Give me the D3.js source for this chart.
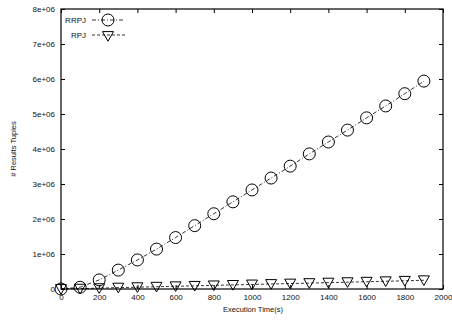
<!DOCTYPE html>
<html>
<head>
<meta charset="utf-8">
<script src="https://cdn.jsdelivr.net/npm/d3@7"></script>
<style>
  html, body { margin: 0; padding: 0; background: #fff; }
  svg { display: block; font-family: "Liberation Sans", Arial, sans-serif; }
</style>
</head>
<body>
<svg id="chart" width="452" height="320"></svg>
<script>
// Execution time samples (seconds)
const times = [0, 100, 200, 300, 400, 500, 600, 700, 800, 900, 1000,
               1100, 1200, 1300, 1400, 1500, 1600, 1700, 1800, 1900];
// Number of result tuples produced so far
const rrpj = [0, 50000, 260000, 540000, 830000, 1140000, 1470000, 1810000, 2150000, 2490000, 2830000,
              3170000, 3510000, 3860000, 4200000, 4540000, 4890000, 5230000, 5580000, 5940000];
const rpj = [0, 10000, 25000, 40000, 52000, 65000, 78000, 90000, 104000, 117000, 130000,
             143000, 156000, 169000, 182000, 195000, 208000, 221000, 235000, 250000];
const seriesNames = ["RRPJ", "RPJ"];
const xTicks = [0, 200, 400, 600, 800, 1000, 1200, 1400, 1600, 1800, 2000];
const yTicks = [0, 1e6, 2e6, 3e6, 4e6, 5e6, 6e6, 7e6, 8e6];
const yTickLabels = ["0", "1e+06", "2e+06", "3e+06", "4e+06", "5e+06", "6e+06", "7e+06", "8e+06"];

const svg = d3.select("#chart");
const L = 61, R = 443, T = 9, B = 289;

const x = d3.scaleLinear().domain([0, 2000]).range([L, R]);
const y = d3.scaleLinear().domain([0, 8e6]).range([B, T]);

const tickLen = 4;
const fs = 8;

// Axes with inward ticks and mirrored ticks on opposite sides
const gx = svg.append("g").attr("transform", `translate(0,${B})`)
  .call(d3.axisBottom(x).tickValues(xTicks).tickSize(-tickLen).tickPadding(6 + tickLen).tickFormat(d3.format("d")));
const gxTop = svg.append("g").attr("transform", `translate(0,${T})`)
  .call(d3.axisTop(x).tickValues(xTicks).tickSize(-tickLen).tickFormat(""));
const gy = svg.append("g").attr("transform", `translate(${L},0)`)
  .call(d3.axisLeft(y).tickValues(yTicks).tickSize(-tickLen).tickPadding(6 + tickLen)
    .tickFormat((d, i) => yTickLabels[i]));
const gyRight = svg.append("g").attr("transform", `translate(${R},0)`)
  .call(d3.axisRight(y).tickValues(yTicks).tickSize(-tickLen).tickFormat(""));

[gx, gxTop, gy, gyRight].forEach(g => {
  g.select(".domain").remove();
  g.selectAll(".tick line").attr("stroke", "#000").attr("stroke-width", 1);
  g.selectAll("text").attr("font-size", fs).attr("fill", "#111")
    .attr("font-family", "'Liberation Sans', Arial, sans-serif");
});
gx.selectAll("text").attr("dy", "0.35em").attr("y", 8);
gy.selectAll("text").attr("x", -6);

// Frame
svg.append("rect")
  .attr("x", L).attr("y", T).attr("width", R - L).attr("height", B - T)
  .attr("fill", "none").attr("stroke", "#000").attr("stroke-width", 1.2);

// Axis titles
svg.append("text")
  .attr("x", (L + R) / 2 + 1).attr("y", 312)
  .attr("text-anchor", "middle").attr("font-size", 7.5).attr("fill", "#111")
  .text("Execution Time(s)");
svg.append("text")
  .attr("transform", `translate(16,${(T + B) / 2}) rotate(-90)`)
  .attr("text-anchor", "middle").attr("font-size", 7.5).attr("fill", "#111")
  .text("# Results Tuples");

const lineGen = d3.line().x(d => x(d[0])).y(d => y(d[1]));
const circR = 6;
const triPath = s => `M${-s},${-s * 0.8}L${s},${-s * 0.8}L0,${s * 0.95}Z`;

// RPJ series: dashed line with downward triangles
const rpjData = times.map((t, i) => [t, rpj[i]]);
svg.append("path").datum(rpjData)
  .attr("d", lineGen).attr("fill", "none").attr("stroke", "#000")
  .attr("stroke-width", 0.8).attr("stroke-dasharray", "3,2");
svg.append("g").selectAll("path").data(rpjData).join("path")
  .attr("transform", d => `translate(${x(d[0])},${y(d[1])})`)
  .attr("d", triPath(5.5)).attr("fill", "none").attr("stroke", "#000").attr("stroke-width", 1);

// RRPJ series: dash-dot line with open circles
const rrpjData = times.map((t, i) => [t, rrpj[i]]);
svg.append("path").datum(rrpjData)
  .attr("d", lineGen).attr("fill", "none").attr("stroke", "#000")
  .attr("stroke-width", 0.8).attr("stroke-dasharray", "4,2,1,2");
svg.append("g").selectAll("circle").data(rrpjData).join("circle")
  .attr("cx", d => x(d[0])).attr("cy", d => y(d[1])).attr("r", circR)
  .attr("fill", "none").attr("stroke", "#000").attr("stroke-width", 1);

// Legend
const legend = svg.append("g");
const legY = [20, 35];
seriesNames.forEach((name, i) => {
  const yy = legY[i];
  legend.append("text").attr("x", 86).attr("y", yy).attr("dy", "0.35em")
    .attr("text-anchor", "end").attr("font-size", fs).attr("fill", "#111").text(name);
  legend.append("line").attr("x1", 92).attr("x2", 125).attr("y1", yy).attr("y2", yy)
    .attr("stroke", "#000").attr("stroke-width", 0.8)
    .attr("stroke-dasharray", i === 0 ? "4,2,1,2" : "3,2");
  if (i === 0) {
    legend.append("circle").attr("cx", 108).attr("cy", yy).attr("r", circR)
      .attr("fill", "none").attr("stroke", "#000").attr("stroke-width", 1);
  } else {
    legend.append("path").attr("transform", `translate(108,${yy + 1})`)
      .attr("d", triPath(5.5)).attr("fill", "none").attr("stroke", "#000").attr("stroke-width", 1);
  }
});
</script>
</body>
</html>
